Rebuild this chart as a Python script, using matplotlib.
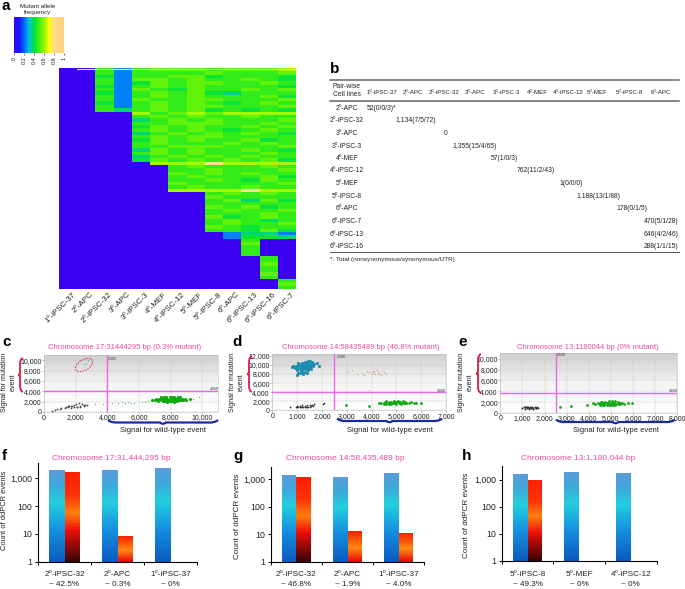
import numpy as np
import matplotlib
matplotlib.use('Agg')
import matplotlib.pyplot as plt
from matplotlib.colors import LinearSegmentedColormap
from matplotlib.patches import Ellipse, PathPatch
from matplotlib.path import Path

plt.rcParams['font.family'] = ['Liberation Sans', 'DejaVu Sans']

W, H = 685, 589

# ---- panel a
cell_lines = ['1⁰-iPSC-37', '2⁰-APC', '2⁰-iPSC-32', '3⁰-APC', '3⁰-iPSC-3', '4⁰-MEF', '4⁰-iPSC-12',
              '5⁰-MEF', '5⁰-iPSC-8', '6⁰-APC', '6⁰-iPSC-13', '6⁰-iPSC-16', '6⁰-iPSC-7']
# one digit per cell, index into digit_freq
digit_freq = [0, 0.1, 0.23, 0.37, 0.42, 0.48, 0.54, 0.62, 0.8, 0.9]
heat_rows = [
    '0052566656667', '0052555565556', '0042556645554', '0052665655654', '0052465665565',
    '0042565655554', '0052654655656', '0042565643555', '0052565655564', '0052655665556',
    '0042565654565', '0052565665556', '0053565645454',
    '0000756767777', '0000565655655', '0000356565556', '0000556665565', '0000465655656',
    '0000565654565', '0000356565654', '0000565665555', '0000465655645', '0000565556565',
    '0000556665556', '0000365655654', '0000565655565', '0000356565655', '0000465656564',
    '0000077787777',
    '0000005655565', '0000005565556', '0000006565655', '0000005655564', '0000005565465',
    '0000006555556', '0000005655655',
    '0000007777877',
    '0000000056565', '0000000065555', '0000000056364', '0000000055555', '0000000065645',
    '0000000056556', '0000000055565', '0000000064565', '0000000056535', '0000000056556',
    '0000000065455', '0000000055464',
    '0000000002332', '0000000002443',
    '0000000000500', '0000000000600', '0000000000500', '0000000000500', '0000000000500',
    '0000000000050', '0000000000050', '0000000000060', '0000000000050', '0000000000050',
    '0000000000060', '0000000000050',
    '0000000000005', '0000000000006', '0000000000005',
]
freq_ticks = [0, 0.2, 0.4, 0.6, 0.8, 1]
freq_tick_labels = ['0', '0.2', '0.4', '0.6', '0.8', '1']

# ---- panel b
table_cols = ['1⁰-iPSC-37', '2⁰-APC', '2⁰-iPSC-32', '3⁰-APC', '3⁰-iPSC-3', '4⁰-MEF', '4⁰-iPSC-12',
              '5⁰-MEF', '5⁰-iPSC-8', '6⁰-APC']
table_rows = ['2⁰-APC', '2⁰-iPSC-32', '3⁰-APC', '3⁰-iPSC-3', '4⁰-MEF', '4⁰-iPSC-12', '5⁰-MEF',
              '5⁰-iPSC-8', '6⁰-APC', '6⁰-iPSC-7', '6⁰-iPSC-13', '6⁰-iPSC-16']
table_vals = ['52(0/0/3)*', '1,134(7/5/72)', '0', '1,355(15/4/65)', '57(1/0/3)', '762(11/2/43)',
              '1(0/0/0)', '1,188(13/1/88)', '178(0/1/5)', '470(5/1/28)', '646(4/2/46)', '288(1/1/15)']

# ---- panels c, d, e
c_green_x = [6800, 7000, 7100, 7200, 7300, 7400, 7450, 7500, 7550, 7600, 7650, 7700, 7750, 7800, 7850, 7900, 7950,
             8000, 8050, 8100, 8150, 8200, 8250, 8300, 8350, 8400, 8450, 8500, 8600, 8700, 8800, 8900, 9000, 9200,
             7200, 7400, 7600, 7800, 8000, 8200, 8400, 8600, 7300, 7500, 7700, 7900, 8100, 8300, 8500, 8700]
c_green_y = [2300, 2400, 2500, 2300, 2500, 2600, 2300, 2400, 2700, 2200, 2500, 2800, 2300, 2600, 2100, 2400, 2800,
             2500, 2200, 2700, 2400, 2900, 2200, 2600, 2400, 2700, 2300, 2500, 2400, 2600, 2300, 2500, 2400, 2500,
             2200, 2800, 2900, 2000, 2100, 2000, 2100, 2800, 2400, 2100, 2100, 2200, 2900, 2200, 2800, 2300]
c_sparse_x = [4300, 4700, 4900, 5100, 5300, 5500, 5700, 6200, 6400, 6600, 9400, 9800, 3700, 3200]
c_sparse_y = [1700, 1800, 1900, 1700, 1900, 1800, 1700, 1900, 2000, 2100, 2600, 2800, 1600, 1500]
c_black_x = [500, 700, 800, 1000, 1100, 1300, 1400, 1500, 1600, 1700, 1800, 1900, 2000, 2100, 2200, 2300, 2400, 2500,
             2600, 2700, 1700, 1900, 2100, 2300, 2500, 1500]
c_black_y = [100, 400, 500, 600, 700, 800, 900, 1000, 1100, 1200, 1100, 1300, 1500, 1000, 1700, 1100, 1600, 1300,
             1300, 1400, 800, 900, 1000, 1000, 1100, 1200]
c_red_x = [2500, 2650, 2800]
c_red_y = [9200, 9500, 10000]

d_blue_x = [800, 850, 900, 950, 1000, 1050, 1100, 1150, 1200, 1250, 1300, 1350, 1400, 1450, 1500, 1550, 1600, 1650,
            1700, 1000, 1050, 1100, 1150, 1200, 1250, 1300, 1350, 1400, 1450, 1500, 1550, 1600, 1100, 1150, 1200,
            1250, 1300, 1350, 1400, 1450, 1500, 1250, 1300, 1350, 1400, 1450, 1050, 1150, 1250, 1350, 1450, 1200,
            1300, 1400, 1500, 1550, 1000, 1100, 1800, 1900]
d_blue_y = [9500, 9700, 9300, 9800, 9400, 10000, 9600, 9200, 10100, 9000, 9600, 10300, 9800, 9300, 10600, 9900,
            10400, 9800, 10300, 8800, 10400, 9900, 8700, 9500, 10400, 8500, 9900, 10700, 8800, 10000, 9200, 10600,
            9000, 10100, 8400, 9700, 10700, 9000, 9500, 10100, 9600, 10000, 9300, 9600, 8300, 9700, 8300, 9500,
            8000, 10100, 10800, 10500, 9900, 10300, 10800, 10200, 7800, 8200, 10500, 9800]
d_tan_x = [3000, 3200, 3400, 3600, 3700, 3800, 3900, 4000, 4100, 4150, 4200, 4300, 4400, 4500, 4600, 3900, 4250, 4050]
d_tan_y = [8400, 8800, 7900, 8300, 7700, 8600, 8400, 8100, 8500, 8000, 8800, 8300, 7800, 8500, 8100, 4500, 8000, 8600]
d_green_x = [4300, 4400, 4500, 4550, 4600, 4650, 4700, 4750, 4800, 4850, 4900, 4950, 5000, 5050, 5100, 5150, 5200,
             5250, 5300, 5350, 5400, 5500, 5600, 5700, 5800, 6000, 4500, 4600, 4700, 4800, 4900, 5000, 5100, 5200,
             5300, 5400, 3900, 2950]
d_green_y = [1600, 1500, 1700, 1900, 1400, 1700, 1800, 1500, 1900, 1600, 2000, 1500, 1800, 2000, 1500, 1900, 1700,
             2000, 1500, 1800, 1700, 1600, 1800, 1500, 1700, 1600, 1400, 2000, 1400, 1400, 1700, 1400, 1800, 1400,
             1700, 1500, 1000, 1100]
d_black_x = [700, 950, 1000, 1050, 1100, 1150, 1200, 1250, 1300, 1350, 1400, 1450, 1500, 1550, 1600, 1650, 1700,
             1000, 1100, 1200, 1300, 1400, 1500, 2050, 2100]
d_black_y = [700, 800, 900, 700, 1000, 800, 1100, 700, 1000, 800, 1200, 800, 1100, 900, 1200, 1000, 1300,
             700, 650, 650, 700, 700, 800, 1400, 1500]

e_green_x = [4200, 4300, 4400, 4500, 4550, 4600, 4650, 4700, 4750, 4800, 4850, 4900, 4950, 5000, 5050, 5100, 5150,
             5200, 5250, 5300, 5350, 5400, 5500, 5600, 5750, 5950, 4500, 4600, 4700, 4800, 4900, 5000, 5100, 5200,
             5300, 5400, 3900, 3200, 2700]
e_green_y = [1800, 1700, 1900, 1700, 2000, 1500, 1900, 1700, 2100, 1500, 1900, 2200, 1600, 1900, 2200, 1500, 1900,
             2200, 1600, 2000, 1700, 1900, 1800, 1700, 1800, 1800, 1500, 2100, 1500, 1900, 1500, 1500, 1800, 1500,
             1800, 1600, 1400, 1300, 1100]
e_black_x = [1000, 1050, 1100, 1150, 1200, 1250, 1300, 1350, 1400, 1450, 1500, 1550, 1600, 1650, 1700, 1100, 1200,
             1300, 1400, 1500, 1600]
e_black_y = [950, 1050, 800, 1150, 900, 1100, 800, 1150, 900, 1100, 800, 1100, 900, 1050, 950, 1100, 1100,
             1000, 1000, 1000, 1000]

# ---- panels f, g, h
f_cats = ['2⁰-iPSC-32', '2⁰-APC', '1⁰-iPSC-37']
f_pct = ['~ 42.5%', '~ 0.3%', '~ 0%']
f_wild = [1930, 1970, 2280]
f_mut = [1630, 8.4, 0]
g_cats = ['2⁰-iPSC-32', '2⁰-APC', '1⁰-iPSC-37']
g_pct = ['~ 46.8%', '~ 1.9%', '~ 4.0%']
g_wild = [1365, 1220, 1700]
g_mut = [1150, 13, 11]
h_cats = ['5⁰-iPSC-8', '5⁰-MEF', '4⁰-iPSC-12']
h_pct = ['~ 49.3%', '~ 0%', '~ 0%']
h_wild = [1570, 1900, 1700]
h_mut = [1000, 0, 0]

PINK = '#ef4a9c'
MAGENTA = '#ee66e8'
TXT = '#222222'

heat_cmap = LinearSegmentedColormap.from_list('heat', [
    (0, '#3c00f0'), (0.1, '#1c10ff'), (0.2, '#0068ff'), (0.3, '#00c4e0'), (0.4, '#00e040'),
    (0.5, '#40f010'), (0.6, '#90f800'), (0.7, '#ffff00'), (0.8, '#ffdc90'), (1, '#ffd080')])
blue_cmap = LinearSegmentedColormap.from_list('bl', [
    (0, '#0a5cc0'), (0.35, '#1590e0'), (0.65, '#22cfdc'), (0.85, '#3fa5dc'), (1, '#5a9cd8')])
red_cmap = LinearSegmentedColormap.from_list('rd', [
    (0, '#3a0505'), (0.2, '#a00808'), (0.35, '#f01008'), (0.55, '#ff8010'), (0.75, '#ff3008'), (1, '#ff2000')])
red_short = LinearSegmentedColormap.from_list('rs', [
    (0, '#e80808'), (0.45, '#ff8a10'), (1, '#f82000')])

fig = plt.figure(figsize=(W / 100, H / 100), dpi=100, facecolor='white')


def px_axes(left, top, right, bottom):
    return fig.add_axes([left / W, 1 - bottom / H, (right - left) / W, (bottom - top) / H])


over = fig.add_axes([0, 0, 1, 1], zorder=5)
over.set_xlim(0, W)
over.set_ylim(H, 0)
over.axis('off')
over.patch.set_alpha(0)


def brace_h(x0, x1, y, color, lw=1.6):
    m = (x0 + x1) / 2
    verts = [(x0, y - 2), (x0 + 3, y + 1), (x0 + 10, y + 0.5), (m - 12, y + 0.5), (m - 3, y + 0.5), (m, y + 3),
             (m + 3, y + 0.5), (m + 12, y + 0.5), (x1 - 10, y + 0.5), (x1 - 3, y + 1), (x1, y - 2)]
    codes = [Path.MOVETO] + [Path.CURVE3, Path.CURVE3] * 5
    over.add_patch(PathPatch(Path(verts, codes), fc='none', ec=color, lw=lw))


def brace_v(x, y0, y1, color, lw=1.3):
    m = (y0 + y1) / 2
    verts = [(x + 3, y0), (x, y0 + 1), (x, y0 + 6), (x, m - 5), (x, m - 1), (x - 3, m),
             (x, m + 1), (x, m + 5), (x, y1 - 6), (x, y1 - 1), (x + 3, y1)]
    codes = [Path.MOVETO] + [Path.CURVE3, Path.CURVE3] * 5
    over.add_patch(PathPatch(Path(verts, codes), fc='none', ec=color, lw=lw))


# panel letters
for letter, lx, ly in [('a', 2, 6), ('b', 330, 69), ('c', 2, 342), ('d', 232, 342), ('e', 458, 342),
                       ('f', 2, 456), ('g', 233, 456), ('h', 462, 456)]:
    over.text(lx, ly, letter, fontsize=11, fontweight='bold', color='black', va='center', ha='left')

# ---- a: colour key
ax_key = px_axes(14, 17, 64, 53)
ax_key.imshow(np.linspace(0, 1, 200)[None, :], cmap=heat_cmap, vmin=0, vmax=1, aspect='auto', extent=[0, 1, 0, 1])
ax_key.set_yticks([])
ax_key.set_xticks(freq_ticks)
ax_key.set_xticklabels(freq_tick_labels, rotation=90, fontsize=4, color=TXT)
ax_key.tick_params(axis='x', length=1.5, width=0.4, pad=1)
for s in ax_key.spines.values():
    s.set_visible(False)
over.text(38, 9.5, 'Mutant allele\nfrequency', fontsize=4.5, ha='center', va='center', color=TXT, linespacing=1.4)

# ---- a: heat map
heat = np.array([[digit_freq[int(c)] for c in row] for row in heat_rows])
ax_heat = px_axes(59, 68, 296, 289)
ax_heat.imshow(heat, cmap=heat_cmap, vmin=0, vmax=1, aspect='auto', interpolation='nearest')
ax_heat.axis('off')
over.plot([77, 296], [68.5, 68.5], color='#e8e890', lw=0.8)
for i, name in enumerate(cell_lines):
    cx = 59 + (i + 0.5) * 237 / 13
    over.text(cx + 4, 291, name, rotation=45, rotation_mode='anchor', ha='right', va='top', fontsize=5.8, color=TXT)

# ---- b: table
col_x = [382.5, 413, 444, 475, 506, 537, 568, 597, 629, 661]
val_x = [382, 416, 446, 475, 504, 536, 571, 598, 632, 661]
row_y = [108, 120.7, 133.3, 146, 158.7, 171, 183.7, 196.3, 209, 221.7, 234.3, 247]
over.plot([330, 679], [80, 80], color='#666666', lw=1.1)
over.plot([330, 679], [100.7, 100.7], color='#666666', lw=1.1)
over.plot([330, 679], [252, 252], color='#555555', lw=0.7)
over.text(347, 91, 'Pair-wise\nCell lines', fontsize=4.9, ha='center', va='center', color=TXT, linespacing=1.2)
for name, x in zip(table_cols, col_x):
    over.text(x, 92.5, name, fontsize=4.4, ha='center', va='center', color=TXT)
for i, name in enumerate(table_rows):
    over.text(347, row_y[i], name, fontsize=4.9, ha='center', va='center', color=TXT)
    vx = val_x[min(i, len(val_x) - 1)]
    over.text(vx, row_y[i], table_vals[i], fontsize=4.9, ha='center', va='center', color=TXT)
over.text(330, 259, '*: Total (nonsynonymous/synonymous/UTR)', fontsize=4.6, ha='left', va='center', color=TXT)


# ---- c, d, e: droplet plots
def droplet(rect, xmax, ymax, xticks, yticks, vline, hline):
    ax = px_axes(*rect)
    ax.imshow(np.linspace(0, 1, 100)[:, None], cmap=LinearSegmentedColormap.from_list('g', ['#cfcfcf', '#f4f4f4', '#ffffff']),
              aspect='auto', extent=[0, xmax, 0, ymax], zorder=0)
    ax.set_xlim(0, xmax)
    ax.set_ylim(0, ymax)
    ax.set_xticks(xticks)
    ax.set_xticklabels([f'{t:,}' for t in xticks], fontsize=5.0, color=TXT)
    ax.set_yticks(yticks)
    ax.set_yticklabels([f'{t:,}' for t in yticks], fontsize=5.0, color=TXT)
    ax.tick_params(length=1.2, width=0.4, pad=0.6, color='#888888')
    ax.grid(color='#c8c8c8', lw=0.3)
    ax.set_axisbelow(True)
    for s in ax.spines.values():
        s.set_color('#bbbbbb')
        s.set_linewidth(0.4)
    ax.axvline(vline, color=MAGENTA, lw=1.0, zorder=3)
    ax.axhline(hline, color=MAGENTA, lw=1.0, zorder=3)
    return ax


ax_c = droplet((44, 355, 218, 412), 11000, 11000, [0, 2000, 4000, 6000, 8000, 10000],
               [0, 2000, 4000, 6000, 8000, 10000], 4000, 4000)
ax_c.scatter(c_green_x, c_green_y, s=5, color='#12a812', lw=0, zorder=4)
ax_c.scatter(c_sparse_x, c_sparse_y, s=0.8, color='#60b860', lw=0, zorder=4)
ax_c.scatter(c_black_x, c_black_y, s=1.6, color='#444444', lw=0, zorder=4)
ax_c.scatter(c_red_x, c_red_y, s=0.8, color='#70a8a8', lw=0, zorder=4)
over.add_patch(Ellipse((84, 365), 19, 10.5, angle=-30, fc='none', ec='#d8304a', lw=0.8, ls=(0, (1.2, 1.2))))

ax_d = droplet((272.3, 354, 446, 410.3), 7000, 12400, [0, 1000, 2000, 3000, 4000, 5000, 6000, 7000],
               [0, 2000, 4000, 6000, 8000, 10000, 12000], 2500, 4000)
ax_d.scatter(d_blue_x, d_blue_y, s=5, color='#1c8cb0', lw=0, zorder=4)
ax_d.scatter(d_tan_x, d_tan_y, s=1, color='#c8a880', lw=0, zorder=4)
ax_d.scatter(d_green_x, d_green_y, s=4, color='#12a812', lw=0, zorder=4)
ax_d.scatter(d_black_x, d_black_y, s=1.6, color='#333333', lw=0, zorder=4)

ax_e = droplet((500.3, 353.3, 677.3, 413), 8000, 11000, [0, 1000, 2000, 3000, 4000, 5000, 6000, 7000, 8000],
               [0, 2000, 4000, 6000, 8000, 10000], 2500, 3600)
ax_e.scatter(e_green_x, e_green_y, s=4, color='#12a812', lw=0, zorder=4)
ax_e.scatter(e_black_x, e_black_y, s=2, color='#333333', lw=0, zorder=4)

over.text(125, 347.5, 'Chromosome 17:31444295 bp (0.3% mutant)', fontsize=5.5, color=PINK, ha='center', va='center')
over.text(361, 347.5, 'Chromosome 14:58435489 bp (46.8% mutant)', fontsize=5.5, color=PINK, ha='center', va='center')
over.text(588, 347.5, 'Chromosome 13:1180044 bp (0% mutant)', fontsize=5.5, color=PINK, ha='center', va='center')

for x0, x1, yb, x_lab, y_lab in [(108, 218, 422, 163.5, 431), (337, 442, 420.5, 390, 430.5), (556, 675, 421.5, 616, 431)]:
    brace_h(x0, x1, yb, '#1c2aa0')
    over.text(x_lab, y_lab, 'Signal for wild-type event', fontsize=5.5, color=TXT, ha='center', va='center')

for x_y, y_y, x_b, y0, y1 in [(9, 382, 20, 358, 392), (237, 382, 249, 356, 392), (466, 382, 478, 354, 393)]:
    brace_v(x_b, y0, y1, '#e01848')
    over.text(x_y, y_y, 'Signal for mutation\nevent', fontsize=5.1, color=TXT, rotation=90, ha='center', va='center',
              linespacing=1.3)
# small droplet gates
for gx, gy, gtxt in [(112, 359, '2,395'), (214, 389, '4,000'), (341, 357, '2,500'), (441, 391, '4,000'),
                     (561, 355, '2,500'), (673, 391, '3,600')]:
    over.text(gx, gy, gtxt, fontsize=2.5, color='#333333', ha='center', va='center')


# ---- f, g, h: bars
def gradient_bar(ax, x, width, top, cmap):
    edges_y = np.logspace(0, np.log10(top), 61)
    fill = np.linspace(0, 1, 60)[:, None]
    ax.pcolormesh([x - width / 2, x + width / 2], edges_y, fill, cmap=cmap, vmin=0, vmax=1,
                  shading='flat', rasterized=True)


def count_panel(rect, ymax, cats, pct, wild, mut, ylab_x, ylab_y, ylab_size, title, title_x, label_y):
    ax = px_axes(*rect)
    width = 0.285
    for i in range(len(cats)):
        ax.bar(i - width / 2, wild[i], width, bottom=1, color='none')
        gradient_bar(ax, i - width / 2, width, wild[i], blue_cmap)
        if mut[i] > 0:
            ax.bar(i + width / 2, mut[i], width, bottom=1, color='none')
            gradient_bar(ax, i + width / 2, width, mut[i], red_cmap if mut[i] > 100 else red_short)
    ax.set_yscale('log')
    ax.set_xlim(-0.5, 2.5)
    ax.set_ylim(1, ymax)
    ax.set_yticks([1, 10, 100, 1000])
    ax.set_yticklabels(['1', '10', '100', '1,000'], fontsize=6.3, color=TXT)
    ax.minorticks_off()
    ax.set_xticks([-0.5, 0.5, 1.5, 2.5])
    ax.set_xticklabels([])
    ax.tick_params(length=2, width=0.7, pad=2)
    ax.spines['top'].set_visible(False)
    ax.spines['right'].set_visible(False)
    ax.spines['left'].set_linewidth(0.8)
    ax.spines['bottom'].set_linewidth(0.8)
    x0, x1 = rect[0], rect[2]
    for i in range(len(cats)):
        cx = x0 + (i + 0.5) * (x1 - x0) / 3
        over.text(cx, label_y, cats[i], fontsize=5.9, color=TXT, ha='center', va='center')
        over.text(cx, label_y + 10, pct[i], fontsize=5.9, color=TXT, ha='center', va='center')
    over.text(ylab_x, ylab_y, 'Count of ddPCR events', fontsize=ylab_size, color=TXT, rotation=90,
              ha='center', va='center')
    over.text(title_x, 459, title, fontsize=6.0, color=PINK, ha='center', va='center')
    return ax


count_panel((38, 463, 197, 561.7), 10 ** 3.55, f_cats, f_pct, f_wild, f_mut, 5, 510, 5.4,
            'Chromosome 17:31,444,295 bp', 111, 574)
count_panel((270.7, 466.7, 424.3, 561.7), 10 ** 3.45, g_cats, g_pct, g_wild, g_mut, 238, 516, 5.9,
            'Chromosome 14:58,435,489 bp', 345, 574)
count_panel((501.7, 466, 656.7, 560.7), 10 ** 3.5, h_cats, h_pct, h_wild, h_mut, 467, 515, 5.9,
            'Chromosome 13:1,180,044 bp', 578, 574)

fig.savefig('out.png', dpi=100)
